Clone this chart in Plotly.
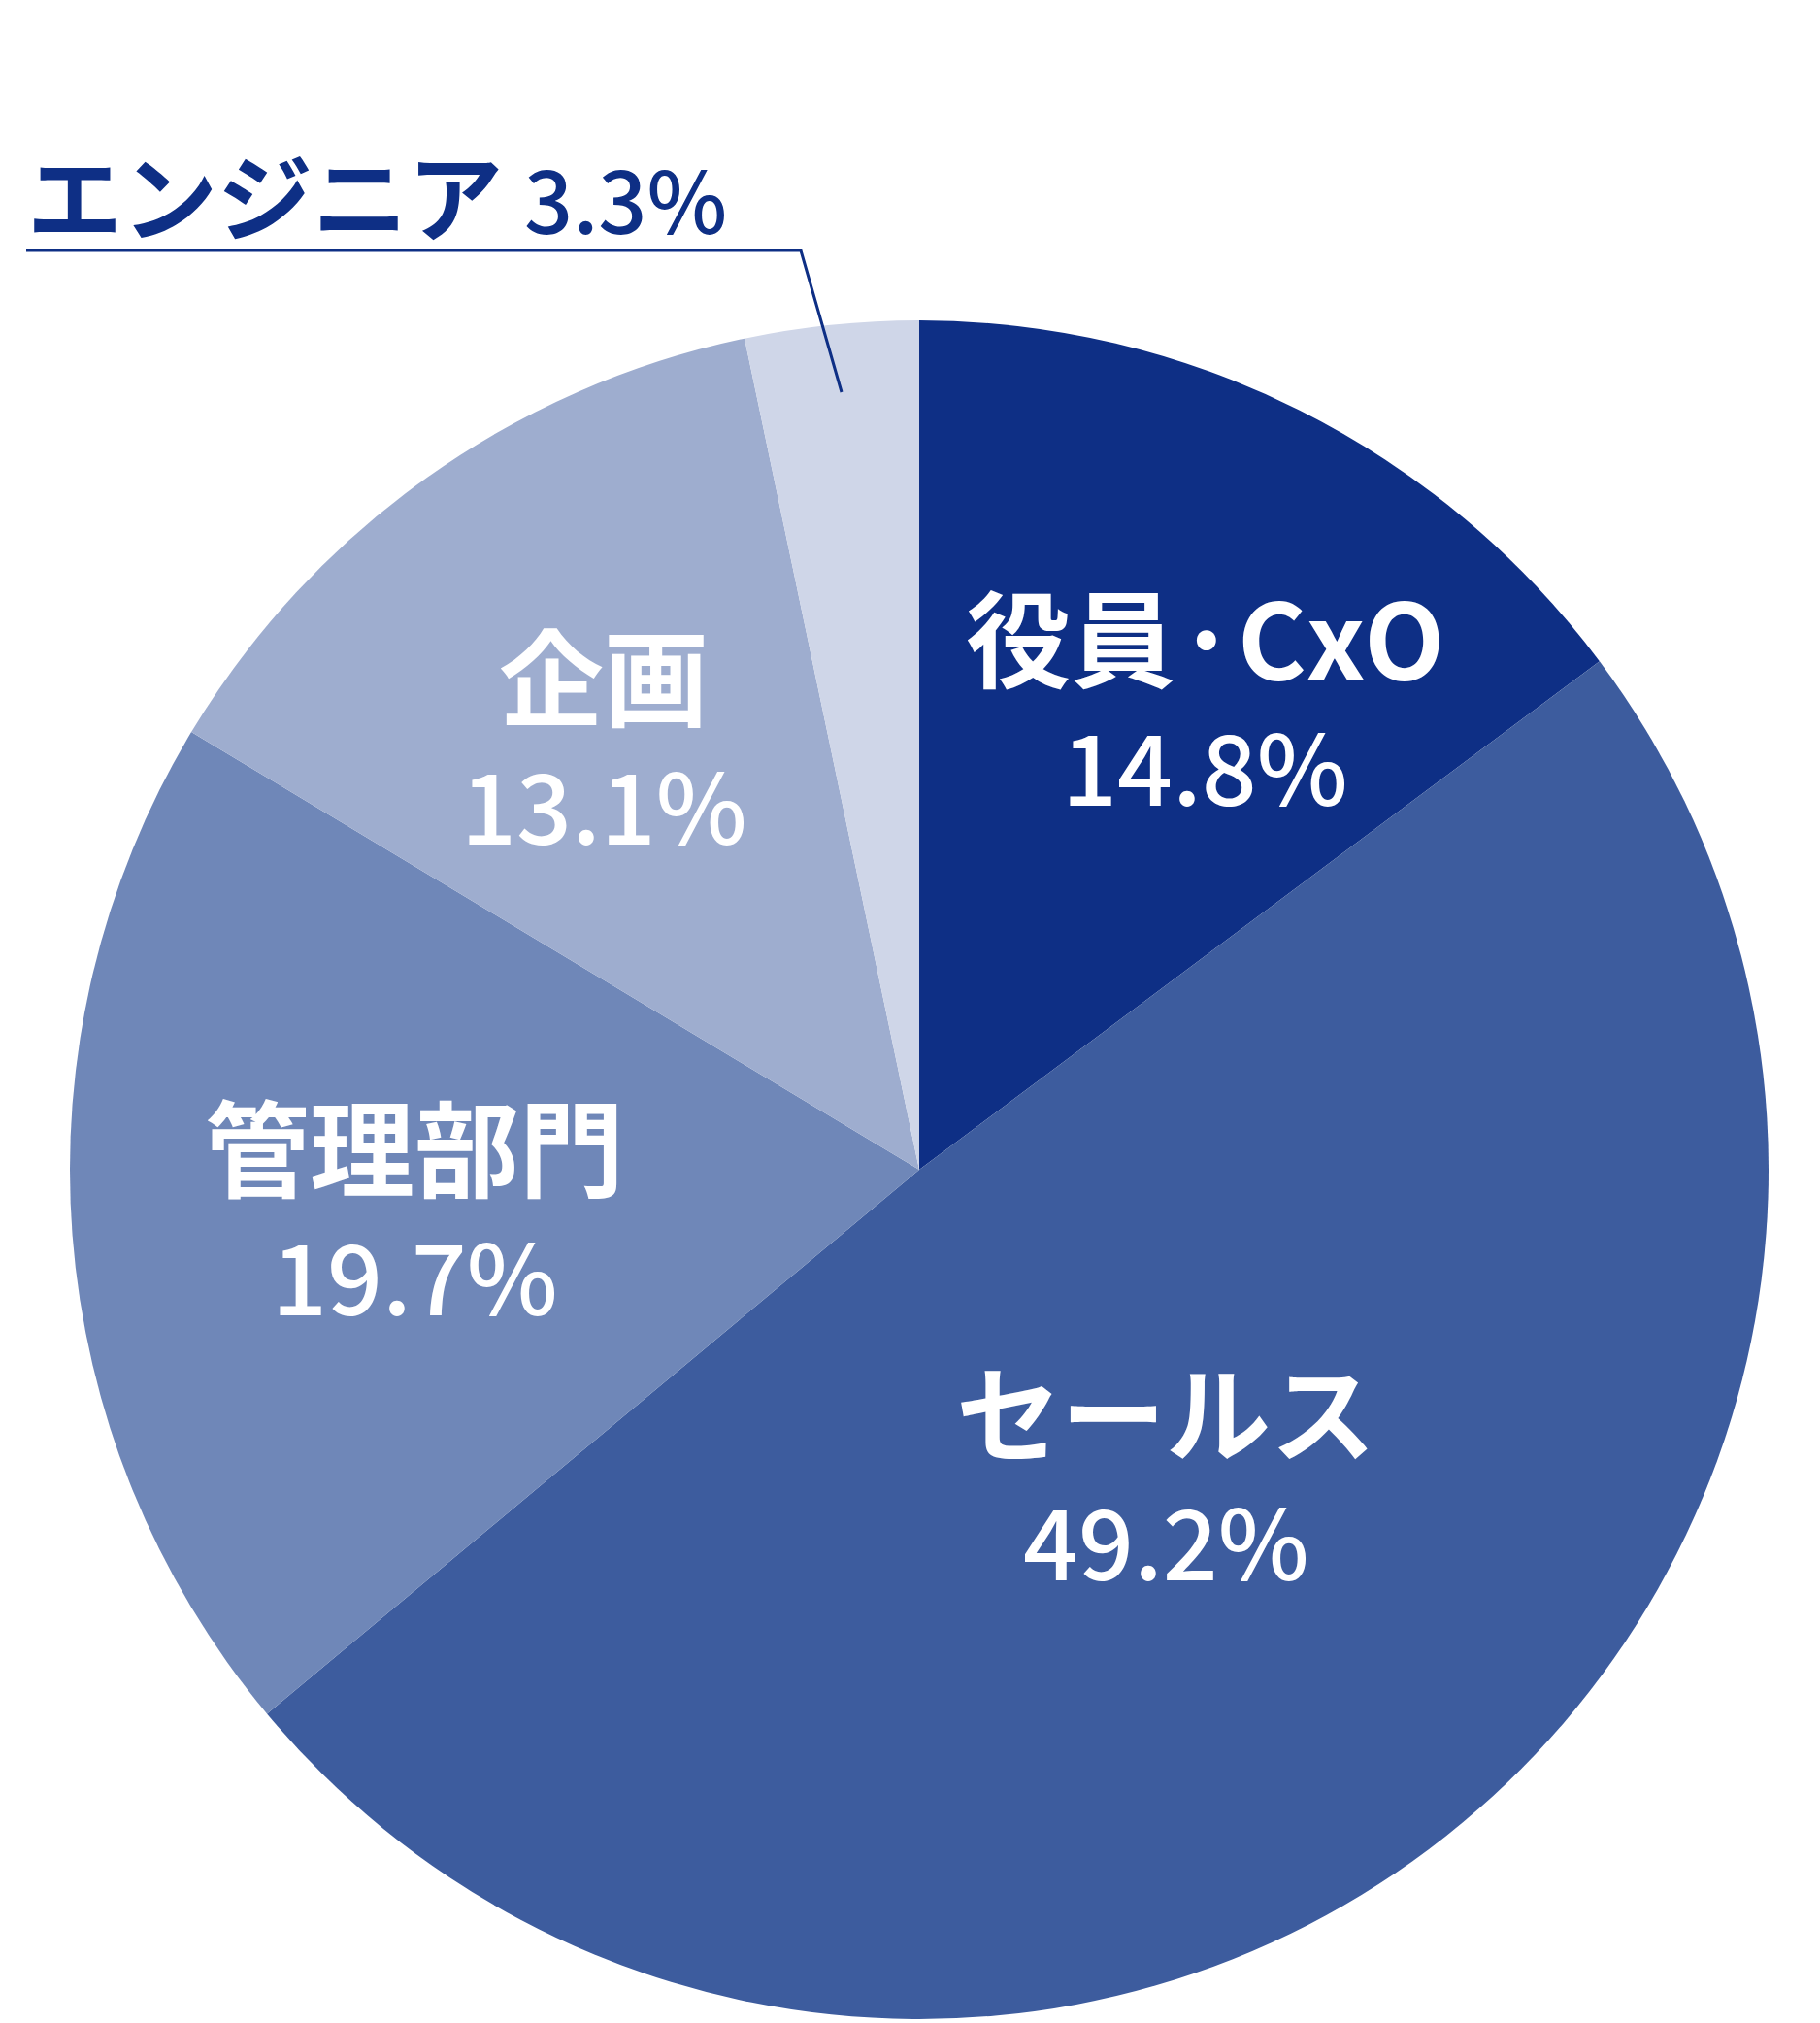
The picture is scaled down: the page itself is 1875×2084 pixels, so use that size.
import plotly.graph_objects as go

W, H = 1875, 2084

labels = ["役員·CxO", "セールス", "管理部門", "企画", "エンジニア"]
values = [14.8, 49.2, 19.7, 13.1, 3.3]
colors = ["#0e2f85", "#3d5c9e", "#6f87b8", "#9eadcf", "#cfd6e8"]

# label anchor points in pixels (x, y of name line)
label_pos = [(1233, 645), (1193, 1443), (419, 1170), (614, 685)]

FONT = "Noto Sans CJK JP"

fig = go.Figure(go.Pie(
    labels=labels,
    values=values,
    sort=False,
    direction="clockwise",
    rotation=0,
    marker=dict(colors=colors, line=dict(width=0)),
    textinfo="none",
    hoverinfo="label+value",
    showlegend=False,
    domain=dict(x=[64 / W, 1814 / W], y=[12 / H, 1762 / H]),
))

ann = []
for name, val, (px, py) in zip(labels, values, label_pos):
    ann.append(dict(x=px / W, y=1 - py / H, xref="paper", yref="paper",
                    xanchor="center", yanchor="middle",
                    text=f"<b>{name}</b>", showarrow=False,
                    font=dict(family=FONT, size=108, color="white")))
    ann.append(dict(x=px / W, y=1 - (py + 133) / H, xref="paper", yref="paper",
                    xanchor="center", yanchor="middle",
                    text=f"{val}%", showarrow=False,
                    font=dict(family=FONT, size=100, color="white", weight=500)))

ann.append(dict(x=18 / W, y=1 - 190 / H, xref="paper", yref="paper",
                xanchor="left", yanchor="middle",
                text=f"<b>{labels[4]}</b> <span style='font-size:88px;font-weight:500'>{values[4]}%</span>",
                showarrow=False,
                font=dict(family=FONT, size=98, color="#0e2f85")))

fig.update_layout(
    width=W, height=H,
    margin=dict(t=0, l=0, r=0, b=0),
    paper_bgcolor="white",
    annotations=ann,
    shapes=[dict(type="path", xref="paper", yref="paper",
                 path=f"M {19 / W} {1 - 250 / H} L {817 / W} {1 - 250 / H} L {859 / W} {1 - 396 / H}",
                 line=dict(color="#0e2f85", width=3))],
)

fig.write_html("out.html")
